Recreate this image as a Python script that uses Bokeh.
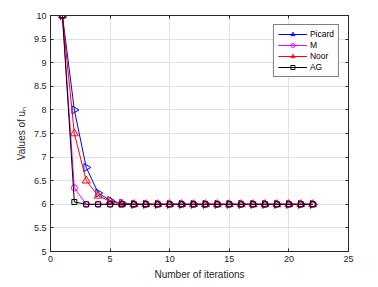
import math
from bokeh.plotting import figure
from bokeh.models import LinearAxis, FixedTicker, Range1d, Legend, CustomJSTickFormatter
from bokeh.embed import file_html
from bokeh.resources import INLINE

iterations = [1, 2, 3, 4, 5, 6, 7, 8, 9, 10, 11, 12, 13, 14, 15, 16, 17, 18, 19, 20, 21, 22]
picard = [10, 8.0, 6.78, 6.24, 6.08, 6.02, 6.0, 6.0, 6.0, 6.0, 6.0, 6.0, 6.0, 6.0, 6.0, 6.0, 6.0, 6.0, 6.0, 6.0, 6.0, 6.0]
m_vals = [10, 6.35, 6.0, 6.0, 6.0, 6.0, 6.0, 6.0, 6.0, 6.0, 6.0, 6.0, 6.0, 6.0, 6.0, 6.0, 6.0, 6.0, 6.0, 6.0, 6.0, 6.0]
noor = [10, 7.5, 6.5, 6.18, 6.06, 6.01, 6.0, 6.0, 6.0, 6.0, 6.0, 6.0, 6.0, 6.0, 6.0, 6.0, 6.0, 6.0, 6.0, 6.0, 6.0, 6.0]
ag = [10, 6.05, 6.0, 6.0, 6.0, 6.0, 6.0, 6.0, 6.0, 6.0, 6.0, 6.0, 6.0, 6.0, 6.0, 6.0, 6.0, 6.0, 6.0, 6.0, 6.0, 6.0]

x_ticks = [0, 5, 10, 15, 20, 25]
y_ticks = [5, 5.5, 6, 6.5, 7, 7.5, 8, 8.5, 9, 9.5, 10]

FONT = "Liberation Sans"
AXC = "#262626"

p = figure(frame_width=298, frame_height=236, output_backend="svg",
           toolbar_location=None, x_range=Range1d(0, 25), y_range=Range1d(5, 10),
           min_border_left=50, min_border_right=20, min_border_top=15, min_border_bottom=28)
p.background_fill_color = "white"
p.border_fill_color = "white"
p.outline_line_color = AXC
p.outline_line_width = 1

for ax in [p.xaxis[0], p.yaxis[0]]:
    ax.major_label_text_font = FONT
    ax.major_label_text_font_size = "9px"
    ax.major_label_text_color = AXC
    ax.axis_label_text_font = FONT
    ax.axis_label_text_font_size = "10px"
    ax.axis_label_text_font_style = "normal"
    ax.axis_label_text_color = AXC
    ax.axis_line_color = AXC
    ax.major_tick_line_color = AXC
    ax.major_tick_in = 3
    ax.major_tick_out = 0
    ax.minor_tick_line_color = None
    ax.major_label_standoff = 4
    ax.axis_label_standoff = 4

p.xaxis[0].ticker = FixedTicker(ticks=x_ticks)
p.yaxis[0].ticker = FixedTicker(ticks=y_ticks)
p.xaxis[0].axis_label = "Number of iterations"
p.yaxis[0].axis_label = "Values of uₙ"

for loc in ["above", "right"]:
    ax = LinearAxis(ticker=FixedTicker(ticks=x_ticks if loc == "above" else y_ticks),
                    formatter=CustomJSTickFormatter(code="return ''"))
    ax.major_label_standoff = 0
    ax.axis_line_color = AXC
    ax.major_tick_line_color = AXC
    ax.major_tick_in = 3
    ax.major_tick_out = 0
    ax.minor_tick_line_color = None
    p.add_layout(ax, loc)

p.xgrid.ticker = FixedTicker(ticks=x_ticks)
p.ygrid.ticker = FixedTicker(ticks=y_ticks)
p.grid.grid_line_color = "#e0e0e0"
p.grid.grid_line_width = 1

series = [
    ("Picard", picard, "#0000ff", "triangle", 8, -math.pi / 2),
    ("M", m_vals, "#ff00ff", "circle", 6, 0.0),
    ("Noor", noor, "#ff0000", "triangle", 8, 0.0),
    ("AG", ag, "#000000", "square", 5, 0.0),
]

items = []
for name, vals, col, marker, size, ang in series:
    r1 = p.line(iterations, vals, line_color=col, line_width=1)
    r2 = p.scatter(x=iterations, y=vals, marker=marker, size=size,
                   angle=[ang] * len(vals), angle_units="rad",
                   line_color=col, fill_color=None, line_width=1)
    items.append((name, [r1, r2]))

legend = Legend(items=items, location="top_right")
legend.label_text_font = FONT
legend.label_text_font_size = "8.5px"
legend.label_text_color = "#000000"
legend.label_height = 10
legend.glyph_height = 10
legend.glyph_width = 29
legend.label_standoff = 3
legend.spacing = 1
legend.padding = 4
legend.margin = 9
legend.border_line_color = "#000000"
legend.border_line_width = 1
legend.background_fill_color = "white"
legend.background_fill_alpha = 1
p.add_layout(legend, "center")

open("out.html", "w").write(file_html(p, INLINE))
